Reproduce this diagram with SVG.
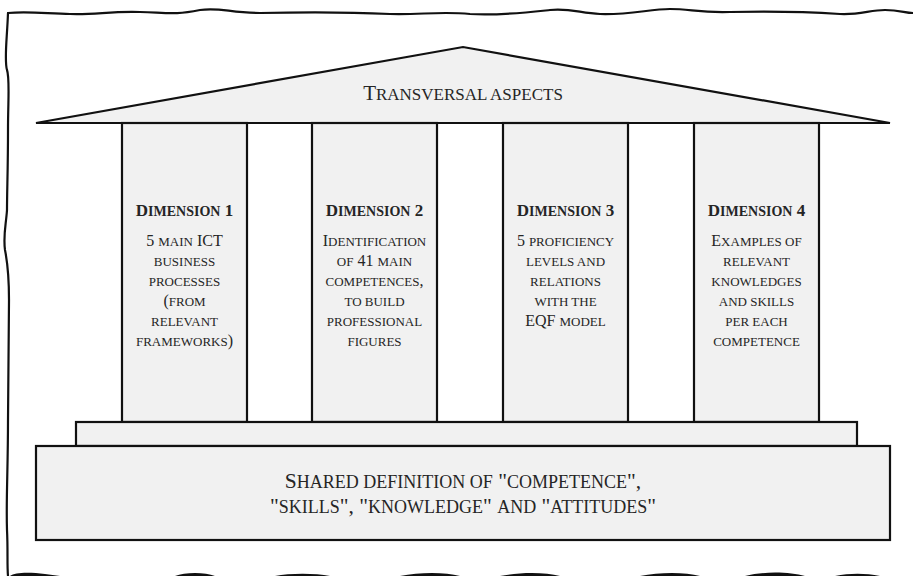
<svg xmlns="http://www.w3.org/2000/svg" width="913" height="576" viewBox="0 0 913 576">
<style>
.sh{fill:#f1f1f1;stroke:#111;stroke-width:2.2}
.t{font-family:"Liberation Serif",serif;fill:#252525;text-anchor:middle}
.h{font-size:17px;font-weight:bold}
.h .s{font-size:14px;text-transform:uppercase}
.b{font-size:16px}
.b .s{font-size:13px;text-transform:uppercase}
.ti{font-size:21px}
.ti .s{font-size:17px;text-transform:uppercase}
.bs{font-size:21.5px}
.bs .s{font-size:18px;text-transform:uppercase}
.frame{fill:none;stroke:#111;stroke-width:2.2;stroke-linecap:round}
</style>
<rect width="913" height="576" fill="#fff"/>
<g id="frame">
<path class="frame" d="M8,13 C30,11 50,14 70,14 C95,15 110,11 140,12 C170,13 175,15 200,10 C220,7 230,13 260,13 C300,12 350,12 390,14 C420,15 440,11 470,14 C500,16 540,11 550,10 C570,8 580,13 600,14 C630,15 650,9 670,9 C690,9 700,13 730,12 C770,11 810,12 840,14 C860,15 870,10 885,10 C900,10 905,13 913,13"/>
<path class="frame" d="M8,13 C7,40 4,60 7,70 C10,78 8,100 8,130 C8,170 7,190 7,210 C6,225 3,235 5,250 C8,265 9,275 9,300 C9,340 8,380 8,420 C8,470 6,500 7,530 C8,550 7,565 8,576"/>
<path d="M10,576 C15,572 30,572 45,574 L60,576 Z M175,576 C185,572 205,572 215,576 Z M275,576 C290,573 315,573 330,576 Z M400,576 C420,572 445,572 460,576 Z M500,576 C520,572 545,572 560,576 Z M640,576 C660,572 685,572 700,576 Z M745,576 C765,571 790,572 805,576 Z M835,576 C850,573 865,573 880,576 Z" fill="#111"/>
</g>
<g id="roof">
<polygon class="sh" points="36,123 463,47 890,123"/>
<text class="t ti" x="463" y="100">T<tspan class="s">ransversal aspects</tspan></text>
</g>
<g id="dimension1">
<rect class="sh" x="122" y="123" width="125" height="299"/>
<text class="t h" x="184.5" y="216">D<tspan class="s">imension</tspan> 1</text>
<text class="t b" x="184.5" y="246">5 <tspan class="s">main</tspan> ICT</text>
<text class="t b" x="184.5" y="266"><tspan class="s">business</tspan></text>
<text class="t b" x="184.5" y="286"><tspan class="s">processes</tspan></text>
<text class="t b" x="184.5" y="306">(<tspan class="s">from</tspan></text>
<text class="t b" x="184.5" y="326"><tspan class="s">relevant</tspan></text>
<text class="t b" x="184.5" y="346"><tspan class="s">frameworks</tspan>)</text>
</g>
<g id="dimension2">
<rect class="sh" x="312" y="123" width="125" height="299"/>
<text class="t h" x="374.5" y="216">D<tspan class="s">imension</tspan> 2</text>
<text class="t b" x="374.5" y="246">I<tspan class="s">dentification</tspan></text>
<text class="t b" x="374.5" y="266"><tspan class="s">of</tspan> 41 <tspan class="s">main</tspan></text>
<text class="t b" x="374.5" y="286"><tspan class="s">competences</tspan>,</text>
<text class="t b" x="374.5" y="306"><tspan class="s">to build</tspan></text>
<text class="t b" x="374.5" y="326"><tspan class="s">professional</tspan></text>
<text class="t b" x="374.5" y="346"><tspan class="s">figures</tspan></text>
</g>
<g id="dimension3">
<rect class="sh" x="503" y="123" width="125" height="299"/>
<text class="t h" x="565.5" y="216">D<tspan class="s">imension</tspan> 3</text>
<text class="t b" x="565.5" y="246">5 <tspan class="s">proficiency</tspan></text>
<text class="t b" x="565.5" y="266"><tspan class="s">levels and</tspan></text>
<text class="t b" x="565.5" y="286"><tspan class="s">relations</tspan></text>
<text class="t b" x="565.5" y="306"><tspan class="s">with the</tspan></text>
<text class="t b" x="565.5" y="326">EQF <tspan class="s">model</tspan></text>
</g>
<g id="dimension4">
<rect class="sh" x="694" y="123" width="125" height="299"/>
<text class="t h" x="756.5" y="216">D<tspan class="s">imension</tspan> 4</text>
<text class="t b" x="756.5" y="246">E<tspan class="s">xamples of</tspan></text>
<text class="t b" x="756.5" y="266"><tspan class="s">relevant</tspan></text>
<text class="t b" x="756.5" y="286"><tspan class="s">knowledges</tspan></text>
<text class="t b" x="756.5" y="306"><tspan class="s">and skills</tspan></text>
<text class="t b" x="756.5" y="326"><tspan class="s">per each</tspan></text>
<text class="t b" x="756.5" y="346"><tspan class="s">competence</tspan></text>
</g>
<g id="step">
<rect class="sh" x="76" y="422" width="781" height="24"/>
</g>
<g id="base">
<rect class="sh" x="36" y="446" width="854" height="94"/>
<text class="t bs" x="463" y="488">S<tspan class="s">hared definition of</tspan> "<tspan class="s">competence</tspan>",</text>
<text class="t bs" x="463" y="513">"<tspan class="s">skills</tspan>", "<tspan class="s">knowledge</tspan>" <tspan class="s">and</tspan> "<tspan class="s">attitudes</tspan>"</text>
</g>
<g id="connectors"/>
</svg>
